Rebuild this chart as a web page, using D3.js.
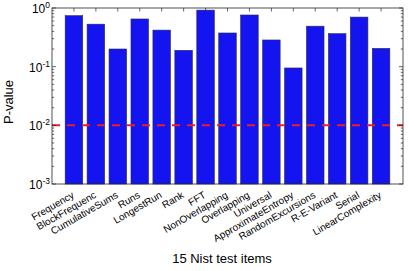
<!DOCTYPE html>
<html>
<head>
<meta charset="utf-8">
<script src="https://cdn.jsdelivr.net/npm/d3@7"></script>
<style>
  body { margin: 0; background: #fff; }
  svg { display: block; font-family: "Liberation Sans", Arial, sans-serif; }
</style>
</head>
<body>
<svg id="chart" width="409" height="271"></svg>
<script>
// data
var testNames = ["Frequency", "BlockFrequenc", "CumulativeSums", "Runs", "LongestRun",
  "Rank", "FFT", "NonOverlapping", "Overlapping", "Universal", "ApproximateEntropy",
  "RandomExcursions", "R-E-Variant", "Serial", "LinearComplexity"];
var pValues = [0.74, 0.53, 0.20, 0.65, 0.42, 0.19, 0.92, 0.375, 0.76, 0.285, 0.095,
  0.49, 0.365, 0.70, 0.205];
var threshold = 0.01;
var yTickExps = [0, -1, -2, -3];

(function () {
  // layout
  var margin = { top: 8, right: 6, bottom: 87, left: 52 };
  var svgWidth = 409, svgHeight = 271;
  var plotLeft = margin.left, plotRight = svgWidth - margin.right;
  var plotTop = margin.top, plotBottom = svgHeight - margin.bottom;
  var axisColor = "#262626";

  var svg = d3.select("#chart");

  var x = d3.scaleLinear().domain([0, testNames.length + 1]).range([plotLeft, plotRight]);
  var y = d3.scaleLog().domain([1e-3, 1]).range([plotBottom, plotTop]);
  var barW = x(0.8) - x(0);

  // bars
  svg.append("g").selectAll("rect")
    .data(pValues)
    .enter()
    .append("rect")
    .attr("x", function (d, i) { return x(i + 1) - barW / 2; })
    .attr("y", function (d) { return y(d); })
    .attr("width", barW)
    .attr("height", function (d) { return plotBottom - y(d); })
    .style("fill", "#1414f0")
    .style("stroke", "#2a2a50")
    .style("stroke-width", 0.6);

  // threshold line
  svg.append("line")
    .attr("x1", plotLeft).attr("x2", plotRight)
    .attr("y1", y(threshold)).attr("y2", y(threshold))
    .style("stroke", "#ee1c25")
    .style("stroke-width", 2)
    .style("stroke-dasharray", "8,7");

  // box
  svg.append("rect")
    .attr("x", plotLeft).attr("y", plotTop)
    .attr("width", plotRight - plotLeft).attr("height", plotBottom - plotTop)
    .style("fill", "none")
    .style("stroke", axisColor)
    .style("stroke-width", 0.8);

  // y ticks (log, minor + major) on both sides
  var ticksG = svg.append("g").style("stroke", axisColor).style("stroke-width", 0.7);
  y.ticks().forEach(function (t) {
    var major = Math.abs(Math.log10(t) - Math.round(Math.log10(t))) < 1e-9;
    var len = major ? 4 : 2.2;
    ticksG.append("line").attr("x1", plotLeft).attr("x2", plotLeft + len)
      .attr("y1", y(t)).attr("y2", y(t));
    ticksG.append("line").attr("x1", plotRight).attr("x2", plotRight - len)
      .attr("y1", y(t)).attr("y2", y(t));
  });

  // x ticks on top
  d3.range(1, testNames.length + 1).forEach(function (i) {
    ticksG.append("line").attr("x1", x(i)).attr("x2", x(i))
      .attr("y1", plotTop).attr("y2", plotTop + 3.5);
  });

  // y tick labels
  var yLabels = svg.append("g").selectAll("text")
    .data(yTickExps)
    .enter()
    .append("text")
    .attr("x", plotLeft - 2)
    .attr("y", function (d) { return y(Math.pow(10, d)) + 5; })
    .attr("text-anchor", "end")
    .style("font-size", "12px")
    .style("fill", "#000");
  yLabels.append("tspan").text("10");
  yLabels.append("tspan")
    .attr("dy", -5)
    .style("font-size", "8.5px")
    .text(function (d) { return d === 0 ? "0" : "-" + Math.abs(d); });

  // x tick labels, rotated
  svg.append("g").selectAll("text")
    .data(testNames)
    .enter()
    .append("text")
    .attr("transform", function (d, i) {
      return "translate(" + [x(i + 1) + 1, plotBottom + 13] + ") rotate(-30)";
    })
    .attr("text-anchor", "end")
    .style("font-size", "10px")
    .style("fill", "#000")
    .text(function (d) { return d; });

  // axis titles
  svg.append("text")
    .attr("transform", "translate(" + [222, 263] + ")")
    .attr("text-anchor", "middle")
    .style("font-size", "13px")
    .text("15 Nist test items");

  svg.append("text")
    .attr("transform", "translate(" + [13, 102] + ") rotate(-90)")
    .attr("text-anchor", "middle")
    .style("font-size", "13px")
    .text("P-value");
})();
</script>
</body>
</html>
